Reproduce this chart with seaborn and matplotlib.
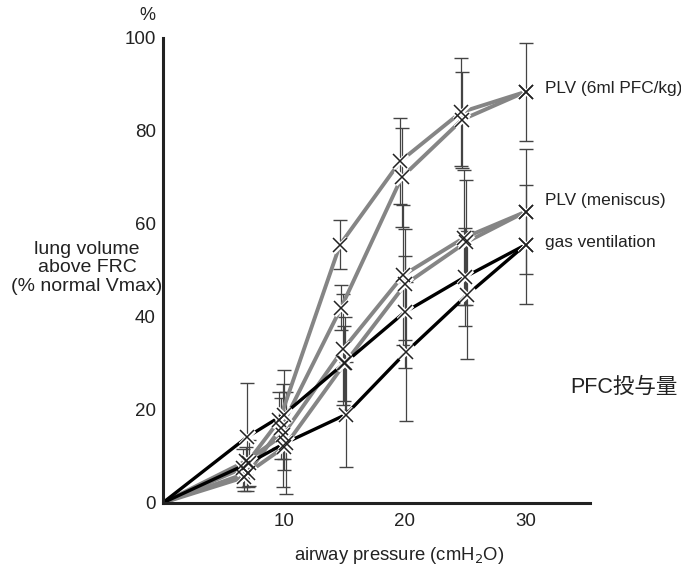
import matplotlib
matplotlib.use("Agg")
import matplotlib.pyplot as plt
import seaborn as sns
import pandas as pd
import numpy as np

sns.set_theme(style="white")
plt.rcParams['font.family'] = ['Liberation Sans', 'Noto Sans CJK JP', 'DejaVu Sans']

# ---- data ----
pressure = [0, 7, 10, 15, 20, 25, 30]

plv6_upper = [0, 7.5, 17.8, 55.5, 73.5, 84.0, 88.4]
plv6_upper_sd = [0, 4.0, 6.0, 5.3, 9.3, 11.6, 10.6]
plv6_lower = [0, 5.5, 16.0, 42.0, 70.0, 82.4, 88.4]
plv6_lower_sd = [0, 3.0, 6.5, 4.8, 10.6, 10.3, 0]

men_upper = [0, 9.0, 14.5, 33.0, 49.0, 57.0, 62.6]
men_upper_sd = [0, 3.0, 11.0, 12.0, 15.0, 14.5, 13.4]
men_lower = [0, 6.5, 12.0, 30.0, 47.0, 56.0, 62.6]
men_lower_sd = [0, 3.0, 5.0, 10.0, 12.0, 13.5, 0]

gas_upper = [0, 14.2, 19.0, 30.0, 41.0, 48.6, 55.5]
gas_upper_sd = [0, 11.6, 9.6, 8.0, 12.0, 10.5, 12.8]
gas_lower = [0, 8.6, 12.9, 19.0, 32.5, 44.7, 55.5]
gas_lower_sd = [0, 5.0, 11.0, 11.3, 15.0, 13.8, 0]

series_labels = ["PLV (6ml PFC/kg)", "PLV (meniscus)", "gas ventilation"]
x_ticks = [10, 20, 30]
y_ticks = [0, 20, 40, 60, 80, 100]

# ---- figure ----
fig = plt.figure(figsize=(6.81, 5.65), dpi=100)
ax = fig.add_axes([0.239, 0.110, 0.627, 0.823])

gray = "#858585"
limbs = [
    (plv6_upper, plv6_upper_sd, gray, -0.35),
    (plv6_lower, plv6_lower_sd, gray, -0.25),
    (men_upper, men_upper_sd, gray, -0.1),
    (men_lower, men_lower_sd, gray, 0.05),
    (gas_upper, gas_upper_sd, "black", 0.0),
    (gas_lower, gas_lower_sd, "black", 0.15),
]

for vals, sd, col, dx in limbs:
    xs = [p + (dx if p not in (0, 30) else 0) for p in pressure]
    df = pd.DataFrame({"p": xs, "v": vals})
    sns.lineplot(data=df, x="p", y="v", sort=False, estimator=None, ax=ax,
                 color=col, lw=2.8 if col != "black" else 2.4, zorder=2)
    xe = [x for x, s in zip(xs, sd) if s > 0]
    ye = [v for v, s in zip(vals, sd) if s > 0]
    se = [s for s in sd if s > 0]
    ax.errorbar(xe, ye, yerr=se, fmt="none", ecolor="#444444", elinewidth=0.9,
                capsize=5, capthick=1.0, zorder=1, clip_on=False)
    ax.plot(xs[1:], vals[1:], ls="none", marker="x", ms=10, mew=3.5,
            color="white", zorder=3, clip_on=False)
    ax.plot(xs[1:], vals[1:], ls="none", marker="x", ms=10, mew=1.1,
            color="#222222", zorder=4, clip_on=False)

ax.set_xlim(0, 35.3)
ax.set_ylim(0, 100)
ax.set_xticks(x_ticks)
ax.set_xticks([5, 15, 25], minor=True)
ax.set_yticks(y_ticks)
ax.set_yticklabels([str(t) for t in y_ticks])
ax.tick_params(axis="both", which="both", direction="in", length=6, width=1.8,
               labelsize=13.5, colors="#222222")
ax.tick_params(axis="x", pad=7)
ax.tick_params(axis="y", pad=5)
for s in ["top", "right"]:
    ax.spines[s].set_visible(False)
for s in ["left", "bottom"]:
    ax.spines[s].set_linewidth(2.2)
    ax.spines[s].set_color("#222222")
ax.set_xlabel("")
ax.set_ylabel("")
ax.grid(False)

# texts
fig.text(147 / 681, 1 - 16 / 565, "%", fontsize=13, ha="center", va="center", color="#222222")
fig.text(87 / 681, 1 - 268 / 565, "lung volume\nabove FRC\n(% normal Vmax)", fontsize=14,
         ha="center", va="center", linespacing=1.15, color="#222222")
fig.text(399 / 681, 1 - 555 / 565, "airway pressure (cmH$_2$O)", fontsize=13.3,
         ha="center", va="center", color="#222222")
label_y_pix = [88, 200, 243]
for lab, yp in zip(series_labels, label_y_pix):
    fig.text(545 / 681, 1 - yp / 565, lab, fontsize=12.4, ha="left", va="center", color="#222222")
fig.text(570 / 681, 1 - 387 / 565, "PFC投与量", fontsize=15.5, ha="left", va="center",
         color="#222222", family=["Liberation Sans", "Noto Sans CJK JP"])

fig.savefig("out.png", dpi=100, facecolor="white")
